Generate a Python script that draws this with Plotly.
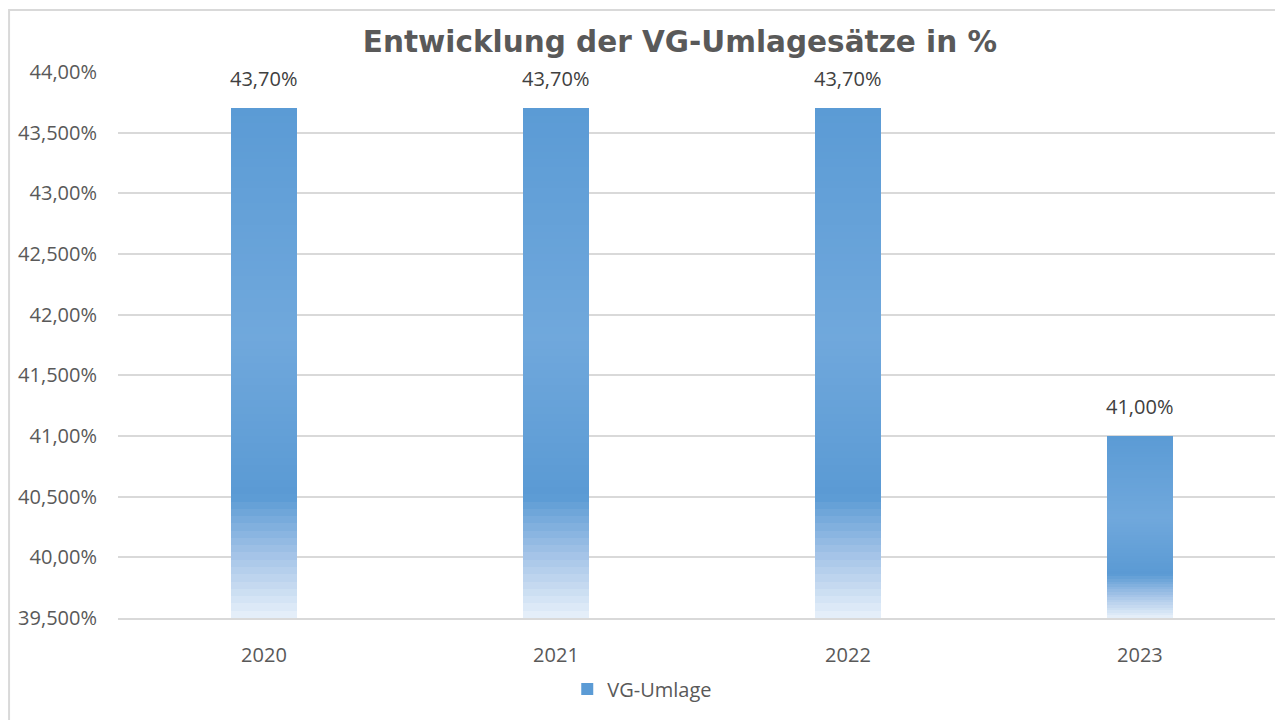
import plotly.graph_objects as go

# ---- data ----
categories = ["2020", "2021", "2022", "2023"]
values = [43.70, 43.70, 43.70, 41.00]
value_labels = ["43,70%", "43,70%", "43,70%", "41,00%"]
series_name = "VG-Umlage"
y_tickvals = [39.5, 40.0, 40.5, 41.0, 41.5, 42.0, 42.5, 43.0, 43.5, 44.0]
y_ticktext = ["39,500%", "40,00%", "40,500%", "41,00%", "41,500%",
              "42,00%", "42,500%", "43,00%", "43,500%", "44,00%"]
y_min, y_max = 39.5, 44.0

# ---- gradient style (fraction from bar top -> colour) ----
grad_stops = [(0.0, (91, 155, 213)), (0.45, (112, 168, 220)), (0.76, (90, 154, 212)),
              (0.88, (166, 197, 232)), (1.0, (232, 241, 250))]
N_SEG = 70


def grad_color(t):
    for (t0, c0), (t1, c1) in zip(grad_stops[:-1], grad_stops[1:]):
        if t0 <= t <= t1:
            f = (t - t0) / (t1 - t0) if t1 > t0 else 0
            c = [round(a + (b - a) * f) for a, b in zip(c0, c1)]
            return f"rgb({c[0]},{c[1]},{c[2]})"
    c = grad_stops[-1][1]
    return f"rgb({c[0]},{c[1]},{c[2]})"


fig = go.Figure()
for k in range(N_SEG):
    t_mid = (k + 0.5) / N_SEG
    heights = [(v - y_min) / N_SEG for v in values]
    bases = [y_min + (v - y_min) * (1 - (k + 1) / N_SEG) for v in values]
    fig.add_trace(go.Bar(
        x=categories, y=heights, base=bases, width=0.226,
        marker=dict(color=grad_color(t_mid), line=dict(width=0)),
        name=series_name, legendgroup="g", showlegend=False, hoverinfo="skip",
    ))

# legend entry
fig.add_trace(go.Bar(x=[categories[0]], y=[0], base=[y_min], name=series_name,
                     marker=dict(color="rgb(91,155,213)", line=dict(width=0)),
                     showlegend=True, hoverinfo="skip"))

for i, (v, lab) in enumerate(zip(values, value_labels)):
    fig.add_annotation(x=i, y=v, xref="x", yref="y", text=lab, showarrow=False,
                       yanchor="bottom", yshift=14,
                       font=dict(family="Open Sans", size=20, color="#404040"))

# chart border (outline of the chart area)
fig.add_shape(type="rect", xref="paper", yref="paper", x0=-0.0935, x1=1.01, y0=-0.3, y1=1.1136,
              line=dict(color="#D9D9D9", width=2), fillcolor="rgba(0,0,0,0)", layer="above")

fig.update_layout(
    width=1275, height=712,
    paper_bgcolor="white", plot_bgcolor="white",
    margin=dict(l=110, r=0, t=64, b=102),
    barmode="overlay", bargap=0,
    title=dict(text="<b>Entwicklung der VG-Umlagesätze in %</b>", xref="container", x=0.527,
               xanchor="center", yref="container", y=1 - 34 / 712, yanchor="middle",
               font=dict(family="DejaVu Sans", size=29.5, color="#595959")),
    showlegend=True,
    legend=dict(orientation="h", x=0.45, xanchor="center", y=-0.13, yanchor="middle",
                font=dict(family="Open Sans", size=20, color="#595959"),
                bgcolor="rgba(0,0,0,0)"),
    xaxis=dict(type="category", range=[-0.5, 3.49], showgrid=False, showline=True,
               linecolor="#D9D9D9", linewidth=2, ticks="", ticklabelstandoff=18,
               tickfont=dict(family="Open Sans", size=20, color="#595959")),
    yaxis=dict(range=[y_min, y_max], tickvals=y_tickvals, ticktext=y_ticktext,
               showgrid=True, gridcolor="#D9D9D9", gridwidth=1.5, zeroline=False,
               showline=False, ticks="", ticklabelstandoff=20,
               tickfont=dict(family="Open Sans", size=20, color="#595959")),
)

fig.write_html("out.html")
